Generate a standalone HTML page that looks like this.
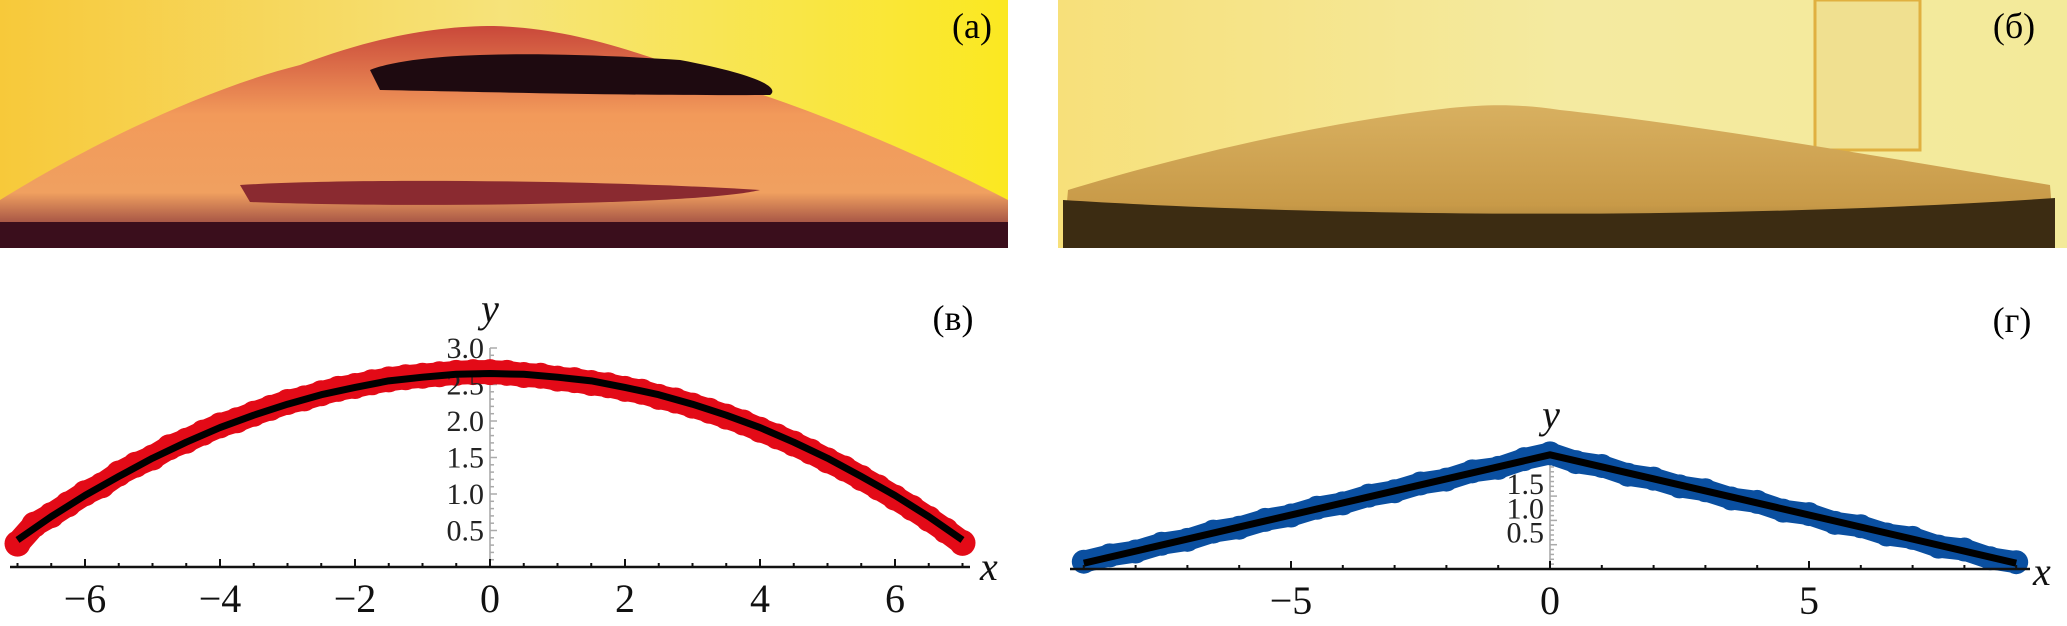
<!DOCTYPE html>
<html><head><meta charset="utf-8"><style>
html,body{margin:0;padding:0;background:#fff;width:2067px;height:626px;overflow:hidden}
svg{display:block}
text{font-family:"Liberation Serif","DejaVu Serif",serif}
</style></head><body>
<svg id="fig" width="2067" height="626" viewBox="0 0 2067 626" xmlns="http://www.w3.org/2000/svg">
<defs>
<linearGradient id="bgA" x1="0" y1="0" x2="1" y2="0"><stop offset="0" stop-color="#f7c93a"/><stop offset="0.5" stop-color="#f6e37a"/><stop offset="1" stop-color="#fbe821"/></linearGradient>
<linearGradient id="domeA" x1="0" y1="0" x2="0" y2="1"><stop offset="0" stop-color="#c9483a"/><stop offset="0.4" stop-color="#f29a5a"/><stop offset="0.75" stop-color="#f0a060"/><stop offset="1" stop-color="#6a1830"/></linearGradient>
<linearGradient id="bgB" x1="0" y1="0" x2="1" y2="0"><stop offset="0" stop-color="#f7e07a"/><stop offset="0.5" stop-color="#f4eaa0"/><stop offset="1" stop-color="#f3ea9a"/></linearGradient>
<linearGradient id="domeB" x1="0" y1="0" x2="0" y2="1"><stop offset="0" stop-color="#d8b060"/><stop offset="0.7" stop-color="#c89a48"/><stop offset="1" stop-color="#8a6a30"/></linearGradient>
</defs>
<g>
<rect x="0" y="0" width="1008" height="248" fill="url(#bgA)"/>
<path d="M0,200 C80,150 200,90 300,65 C380,35 440,26 494,26 C560,28 620,45 700,75 C820,110 930,160 1008,200 L1008,248 L0,248 Z" fill="url(#domeA)"/>
<path d="M370,70 C420,50 560,52 680,60 C760,75 780,88 770,95 C650,96 480,92 380,90 Z" fill="#1e0a10"/>
<path d="M240,185 C350,178 600,180 760,190 C700,205 400,208 250,202 Z" fill="#8a2a30"/>
<rect x="0" y="222" width="1008" height="26" fill="#3a0e1c"/>
<text x="972" y="38" font-size="36" text-anchor="middle">(a)</text>
</g>
<g>
<rect x="1058" y="0" width="1009" height="248" fill="url(#bgB)"/>
<rect x="1815" y="0" width="105" height="150" fill="#f0e090" stroke="#e0b040" stroke-width="3"/>
<path d="M1068,190 C1150,165 1300,125 1450,108 C1490,104 1520,104 1560,110 C1700,125 1900,160 2050,185 L2055,248 L1063,248 Z" fill="url(#domeB)"/>
<path d="M1063,200 C1300,215 1700,222 2055,198 L2055,248 L1063,248 Z" fill="#3c2c12"/>
<text x="2014" y="38" font-size="36" text-anchor="middle">(б)</text>
</g>
<text x="953" y="330" font-size="36" text-anchor="middle">(в)</text>
<text x="2012" y="332" font-size="36" text-anchor="middle">(г)</text>
<g id="chartV"></g>
<g id="chartG"></g>
</svg>
<script>
// Chart (в) data
const vX = [-7,-6.75,-6.5,-6.25,-6,-5.75,-5.5,-5.25,-5,-4.75,-4.5,-4.25,-4,-3.75,-3.5,-3.25,-3,-2.75,-2.5,-2.25,-2,-1.75,-1.5,-1.25,-1,-0.75,-0.5,-0.25,0,0.25,0.5,0.75,1,1.25,1.5,1.75,2,2.25,2.5,2.75,3,3.25,3.5,3.75,4,4.25,4.5,4.75,5,5.25,5.5,5.75,6,6.25,6.5,6.75,7];
const vY = [0.32,0.58,0.71,0.86,1.01,1.12,1.28,1.40,1.50,1.64,1.73,1.84,1.94,2.01,2.10,2.18,2.26,2.31,2.38,2.44,2.48,2.53,2.57,2.60,2.62,2.64,2.66,2.67,2.67,2.66,2.63,2.62,2.58,2.56,2.52,2.49,2.44,2.40,2.33,2.28,2.21,2.14,2.06,1.98,1.88,1.79,1.69,1.58,1.46,1.35,1.22,1.09,0.95,0.81,0.66,0.50,0.33];
const vFitX = [-7,-6.5,-6,-5.5,-5,-4.5,-4,-3.5,-3,-2.5,-2,-1.5,-1,-0.5,0,0.5,1,1.5,2,2.5,3,3.5,4,4.5,5,5.5,6,6.5,7];
const vFitY = [0.37,0.69,0.98,1.24,1.49,1.71,1.91,2.08,2.23,2.36,2.46,2.55,2.60,2.64,2.65,2.64,2.60,2.55,2.46,2.36,2.23,2.08,1.91,1.71,1.49,1.24,0.98,0.69,0.37];
const vXTicks = [-6,-4,-2,0,2,4,6];
const vYTicks = [0.5,1.0,1.5,2.0,2.5,3.0];
const vYTickLabels = ["0.5","1.0","1.5","2.0","2.5","3.0"];
// Chart (г) data
const gX = [-9,-8.5,-8,-7.5,-7,-6.5,-6,-5.5,-5,-4.5,-4,-3.5,-3,-2.5,-2,-1.5,-1,-0.5,0,0.5,1,1.5,2,2.5,3,3.5,4,4.5,5,5.5,6,6.5,7,7.5,8,8.5,9];
const gY = [0.15,0.28,0.36,0.52,0.60,0.77,0.85,1.01,1.10,1.26,1.35,1.51,1.60,1.76,1.84,2.01,2.08,2.26,2.38,2.20,2.12,1.94,1.86,1.70,1.62,1.45,1.38,1.20,1.13,0.95,0.88,0.71,0.64,0.46,0.40,0.22,0.14];
const gFitX = [-9,0,9];
const gFitY = [0.12,2.35,0.12];
const gXTicks = [-5,0,5];
const gYTicks = [0.5,1.0,1.5];
const gYTickLabels = ["0.5","1.0","1.5"];

const NS = "http://www.w3.org/2000/svg";
function mk(parent, tag, attrs, txt){
  const e = document.createElementNS(NS, tag);
  for (const k in attrs) e.setAttribute(k, attrs[k]);
  if (txt !== undefined) e.textContent = txt;
  parent.appendChild(e);
  return e;
}

function drawChart(g, cfg){
  const X = v => cfg.x0 + v*cfg.xs;
  const Y = v => cfg.y0 - v*cfg.ys;
  const ya = mk(g,'line',{x1:X(0),y1:cfg.y0,x2:X(0),y2:Y(cfg.yTop),stroke:'#bbb','stroke-width':2});
  
  
  for (let v=cfg.yMinorStep; v<=cfg.yTop+1e-9; v+=cfg.yMinorStep){
    const major = cfg.yTicks.some(t=>Math.abs(t-v)<1e-6);
    const t = mk(g,'line',{x1:X(0),y1:Y(v),x2:X(0)+(major?7:4),y2:Y(v),stroke:'#aaa','stroke-width':1.5});
    
    
  }
  const pts = cfg.xs_.map((x,i)=>X(x)+','+Y(cfg.ys_[i])).join(' ');
  const band = mk(g,'polyline',{points:pts,fill:'none',stroke:cfg.color,'stroke-width':cfg.r*2,'stroke-linejoin':'round','stroke-linecap':'round'});
  
  
  cfg.xs_.forEach((x,i)=>{
    const c = mk(g,'circle',{cx:X(x),cy:Y(cfg.ys_[i]),r:cfg.r+1,fill:cfg.color});
    
    
  });
  cfg.yTicks.forEach((v,i)=>{
    const t = mk(g,'text',{x:X(0)-6,y:Y(v)+cfg.yFont*0.33+cfg.yLabOff,'font-size':cfg.yFont,'text-anchor':'end',fill:'#222'}, cfg.yLabels[i]);
    
    
  });
  const fp = cfg.fx.map((x,i)=>X(x)+','+Y(cfg.fy[i])).join(' ');
  const fit = mk(g,'polyline',{points:fp,fill:'none',stroke:'#000','stroke-width':7,'stroke-linejoin':'round'});
  
  
  const xa = mk(g,'line',{x1:cfg.axL,y1:cfg.y0,x2:cfg.axR,y2:cfg.y0,stroke:'#111','stroke-width':2.5});
  
  
  for (let v=cfg.xMin; v<=cfg.xMax+1e-9; v+=cfg.xMinorStep){
    const major = cfg.xTicks.some(t=>Math.abs(t-v)<1e-6);
    const t = mk(g,'line',{x1:X(v),y1:cfg.y0,x2:X(v),y2:cfg.y0-(major?8:4),stroke:'#111','stroke-width':2});
    
    
  }
  cfg.xTicks.forEach(v=>{
    const lab = v<0 ? '\u2212'+Math.abs(v) : String(v);
    const t = mk(g,'text',{x:X(v),y:cfg.y0+45,'font-size':40,'text-anchor':'middle',fill:'#111'}, lab);
    
    
  });
  const xl = mk(g,'text',{x:cfg.xLab[0],y:cfg.xLab[1],'font-size':40,'font-style':'italic',fill:'#111'}, 'x');
  
  
  const yl = mk(g,'text',{x:cfg.yLab[0],y:cfg.yLab[1],'font-size':40,'font-style':'italic','text-anchor':'middle',fill:'#111'}, 'y');
  
  
}

drawChart(document.getElementById('chartV'), {
  id:'chart-v', x0:490, xs:67.5, y0:567, ys:73, yTop:3.0, yMinorStep:0.1,
  yTicks:vYTicks, yLabels:vYTickLabels, yFont:30, yLabOff:0,
  xs_:vX, ys_:vY, fx:vFitX, fy:vFitY, color:'#e30a17', r:12,
  axL:10, axR:970, xMin:-7, xMax:7, xMinorStep:0.5, xTicks:vXTicks,
  xLab:[980,580], yLab:[490,322]
});
drawChart(document.getElementById('chartG'), {
  id:'chart-g', x0:1550, xs:51.8, y0:569, ys:48.6, yTop:2.3, yMinorStep:0.1,
  yTicks:gYTicks, yLabels:gYTickLabels, yFont:30, yLabOff:-12,
  xs_:gX, ys_:gY, fx:gFitX, fy:gFitY, color:'#0a4fa0', r:11,
  axL:1070, axR:2030, xMin:-9, xMax:9, xMinorStep:1, xTicks:gXTicks,
  xLab:[2033,585], yLab:[1551,428]
});
</script>
</body></html>
